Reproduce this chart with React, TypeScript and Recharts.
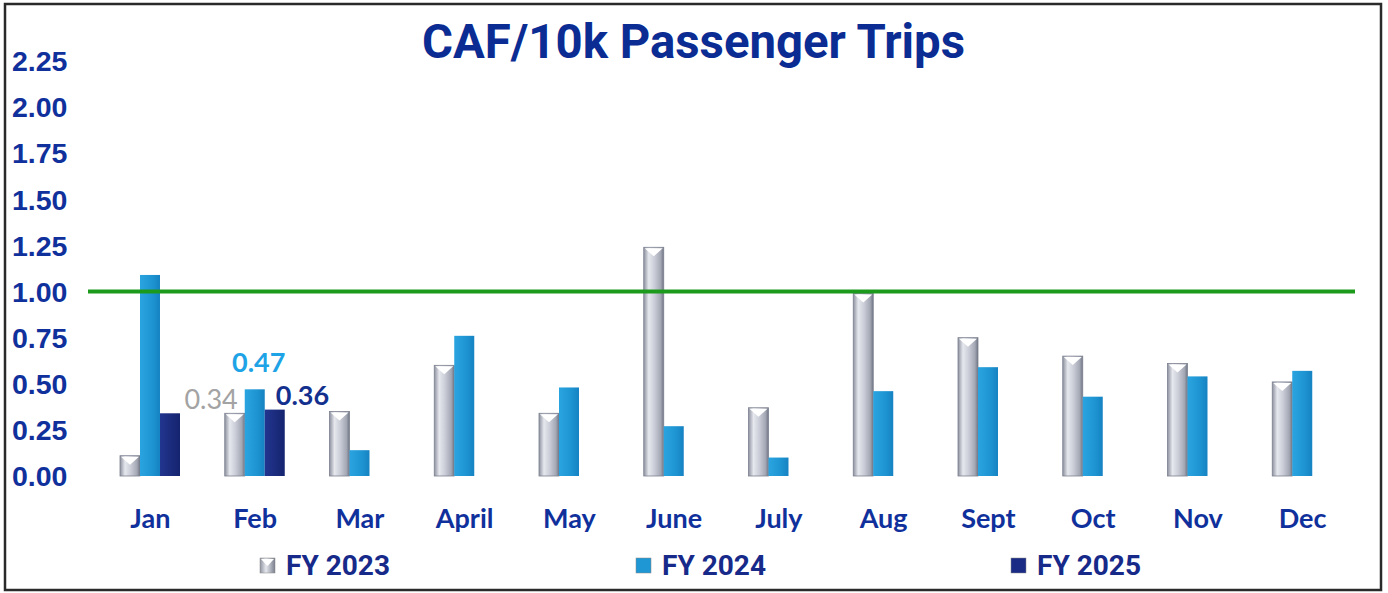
import { BarChart, Bar, XAxis, YAxis, ReferenceLine, LabelList } from "recharts";

const months = ["Jan", "Feb", "Mar", "April", "May", "June", "July", "Aug", "Sept", "Oct", "Nov", "Dec"];
const fy2023 = [0.11, 0.34, 0.35, 0.6, 0.34, 1.24, 0.37, 0.99, 0.75, 0.65, 0.61, 0.51];
const fy2024 = [1.09, 0.47, 0.14, 0.76, 0.48, 0.27, 0.1, 0.46, 0.59, 0.43, 0.54, 0.57];
const fy2025 = [0.34, 0.36, null, null, null, null, null, null, null, null, null, null];
const yTicks = [0, 0.25, 0.5, 0.75, 1, 1.25, 1.5, 1.75, 2, 2.25];
const target = 1.0;
const labeledMonth = "Feb";

const data = months.map((m, i) => ({
  month: m,
  fy2023: fy2023[i],
  fy2024: fy2024[i],
  fy2025: fy2025[i],
}));

const NAVY_TEXT = "#10309c";

function SilverBar(props: any) {
  const { x, y, width, height } = props;
  if (!height || height <= 0) return null;
  const t = Math.min(9, height);
  return (
    <g>
      <rect x={x} y={y} width={width} height={height} fill="url(#silver)" stroke="#7c8090" strokeWidth={0.8} />
      <polygon
        points={`${x + 1},${y + 1} ${x + width - 1},${y + 1} ${x + width / 2},${y + t}`}
        fill="#ffffff"
      />
    </g>
  );
}

function BlueBar(props: any) {
  const { x, y, width, height, fill } = props;
  if (!height || height <= 0) return null;
  return <rect x={x} y={y} width={width} height={height} fill={fill} />;
}

function YTick(props: any) {
  const { y, payload } = props;
  return (
    <text
      x={12}
      y={y}
      dy="0.36em"
      textAnchor="start"
      fill={NAVY_TEXT}
      fontFamily="'Liberation Sans', Arial, sans-serif"
      fontWeight={700}
      fontSize={28.5}
    >
      {Number(payload.value).toFixed(2)}
    </text>
  );
}

function XTick(props: any) {
  const { x, y, payload } = props;
  return (
    <text
      x={x}
      y={y + 44}
      textAnchor="middle"
      fill={NAVY_TEXT}
      fontFamily="Lato, 'Open Sans', sans-serif"
      fontWeight={700}
      fontSize={27}
    >
      {payload.value}
    </text>
  );
}

function makeLabel(color: string, bold: boolean, dx: number, dy: number, anchor: string) {
  return (props: any) => {
    const { x, y, width, value, index } = props;
    if (months[index] !== labeledMonth || value == null) return null;
    return (
      <text
        x={x + width / 2 + dx}
        y={y + dy}
        textAnchor={anchor}
        fill={color}
        fontFamily="Lato, 'Open Sans', sans-serif"
        fontWeight={bold ? 700 : 400}
        fontSize={27}
      >
        {Number(value).toFixed(2)}
      </text>
    );
  };
}

const legendItems = [
  { label: "FY 2023", x: 260, fill: "url(#silverLeg)" },
  { label: "FY 2024", x: 636, fill: "#1e97d4" },
  { label: "FY 2025", x: 1011, fill: "#1a2b86" },
];

export default function App() {
  return (
    <div style={{ position: "absolute", left: 0, top: 0, width: 1388, height: 593, background: "#fff" }}>
      <BarChart
        width={1388}
        height={593}
        data={data}
        margin={{ top: 61, right: 33, bottom: 77, left: 0 }}
        barCategoryGap="21%"
        barGap={0}
        style={{ position: "absolute", left: 0, top: 0 }}
      >
        <defs>
          <linearGradient id="silver" x1="0" y1="0" x2="1" y2="0">
            <stop offset="0%" stopColor="#8d919e" />
            <stop offset="25%" stopColor="#e6e8ee" />
            <stop offset="55%" stopColor="#c9ccd6" />
            <stop offset="85%" stopColor="#a3a7b4" />
            <stop offset="100%" stopColor="#6f7483" />
          </linearGradient>
          <linearGradient id="blue" x1="0" y1="0" x2="1" y2="0">
            <stop offset="0%" stopColor="#2aa4e0" />
            <stop offset="60%" stopColor="#1e95d2" />
            <stop offset="100%" stopColor="#1682c2" />
          </linearGradient>
          <linearGradient id="navy" x1="0" y1="0" x2="1" y2="0">
            <stop offset="0%" stopColor="#22358f" />
            <stop offset="100%" stopColor="#15246f" />
          </linearGradient>
        </defs>
        <XAxis
          dataKey="month"
          axisLine={false}
          tickLine={false}
          tick={<XTick />}
          height={40}
          padding={{ left: 10, right: 0 }}
          interval={0}
        />
        <YAxis
          domain={[0, 2.25]}
          ticks={yTicks}
          axisLine={false}
          tickLine={false}
          tick={<YTick />}
          width={88}
          interval={0}
        />
        <ReferenceLine y={target} stroke="#1c9a1c" strokeWidth={4} />
        <Bar dataKey="fy2023" name="FY 2023" shape={<SilverBar />} isAnimationActive={false}>
          <LabelList dataKey="fy2023" content={makeLabel("#a3a3a3", false, 3, -4, "end")} />
        </Bar>
        <Bar dataKey="fy2024" name="FY 2024" fill="url(#blue)" shape={<BlueBar />} isAnimationActive={false}>
          <LabelList dataKey="fy2024" content={makeLabel("#1ea3e6", true, 4, -17, "middle")} />
        </Bar>
        <Bar dataKey="fy2025" name="FY 2025" fill="url(#navy)" shape={<BlueBar />} isAnimationActive={false}>
          <LabelList dataKey="fy2025" content={makeLabel("#13308e", true, 1, -5, "start")} />
        </Bar>
      </BarChart>
      <svg
        width={1388}
        height={593}
        style={{ position: "absolute", left: 0, top: 0, pointerEvents: "none" }}
      >
        <defs>
          <linearGradient id="silverLeg" x1="0" y1="0" x2="1" y2="0">
            <stop offset="0%" stopColor="#9094a0" />
            <stop offset="40%" stopColor="#e6e8ee" />
            <stop offset="100%" stopColor="#7a7f8d" />
          </linearGradient>
        </defs>
        <rect x={5} y={4} width={1376} height={586} fill="none" stroke="#2a2a2a" strokeWidth={2.5} />
        <text
          x={422}
          y={58}
          textLength={543}
          lengthAdjust="spacingAndGlyphs"
          fill="#0b2c93"
          fontFamily="'Liberation Sans Narrow', Roboto, sans-serif"
          fontWeight={700}
          fontSize={48}
        >
          CAF/10k Passenger Trips
        </text>
        {legendItems.map((it) => (
          <g key={it.label}>
            <rect x={it.x} y={558} width={15} height={15} fill={it.fill} stroke="#888" strokeWidth={0.5} />
            {it.label === "FY 2023" && (
              <polygon points={`${it.x + 1},${559} ${it.x + 14},${559} ${it.x + 7.5},${566}`} fill="#fff" />
            )}
            <text
              x={it.x + 26}
              y={575}
              textLength={104}
              lengthAdjust="spacingAndGlyphs"
              fill="#172a8a"
              fontFamily="'Liberation Sans Narrow', Roboto, sans-serif"
              fontWeight={700}
              fontSize={28}
            >
              {it.label}
            </text>
          </g>
        ))}
      </svg>
    </div>
  );
}
